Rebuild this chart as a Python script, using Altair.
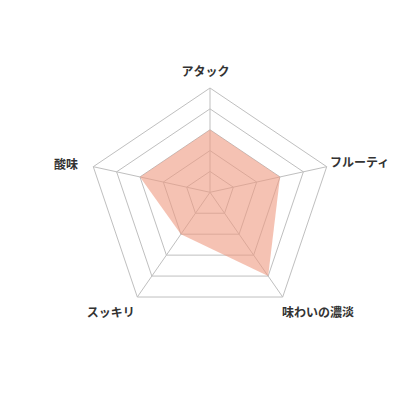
import altair as alt
import pandas as pd

# ---- data ----
AXES = ["アタック", "フルーティ", "味わいの濃淡", "スッキリ", "酸味"]
VALUES = [3, 3, 4, 2, 3]
LEVELS = [1, 2, 3, 4, 5]

# ---- layout (direction of each spoke per ring unit, label anchors) ----
DIR_X = [0.0, 1.119, 0.697, -0.697, -1.119]
DIR_Y = [1.0, 0.2455, -1.004, -1.004, 0.2455]
LABEL_X = [-0.21, 5.75, 5.18, -4.76, -6.33]
LABEL_Y = [5.75, 1.39, -5.77, -5.80, 1.31]
LABEL_ALIGN = ["center", "left", "center", "center", "right"]

U = 20.86           # pixels per ring unit
W = H = 400
CX, CY = 202.0, 184.3
xdom = [-CX / U, (W - CX) / U]
ydom = [-(H - CY) / U, CY / U]

axes_df = pd.DataFrame({"axis": AXES, "idx": list(range(len(AXES))),
                        "dx": DIR_X, "dy": DIR_Y})
series_df = axes_df.assign(value=VALUES)
grid_df = pd.concat([axes_df.assign(level=l) for l in LEVELS], ignore_index=True)
spoke_df = axes_df.assign(level=max(LEVELS))
label_df = pd.DataFrame({"axis": AXES, "lx": LABEL_X, "ly": LABEL_Y,
                         "align": LABEL_ALIGN})

xs = alt.Scale(domain=xdom, nice=False, zero=False)
ys = alt.Scale(domain=ydom, nice=False, zero=False)

GRID = "#bfbfbf"

rings = alt.Chart(grid_df).transform_calculate(
    px="datum.dx * datum.level", py="datum.dy * datum.level"
).mark_line(interpolate="linear-closed", stroke=GRID, strokeWidth=1).encode(
    x=alt.X("px:Q", scale=xs, axis=None),
    y=alt.Y("py:Q", scale=ys, axis=None),
    detail="level:N",
    order="idx:Q",
)

spokes = alt.Chart(spoke_df).transform_calculate(
    x0="0", y0="0", px="datum.dx * datum.level", py="datum.dy * datum.level"
).mark_rule(stroke=GRID, strokeWidth=1).encode(
    x=alt.X("x0:Q", scale=xs, axis=None),
    y=alt.Y("y0:Q", scale=ys, axis=None),
    x2="px:Q",
    y2="py:Q",
)

area = alt.Chart(series_df).transform_calculate(
    px="datum.dx * datum.value", py="datum.dy * datum.value"
).mark_line(interpolate="linear-closed", fill="#ef9a80", fillOpacity=0.6,
            stroke="#ef9a80", strokeOpacity=0, strokeWidth=0).encode(
    x=alt.X("px:Q", scale=xs, axis=None),
    y=alt.Y("py:Q", scale=ys, axis=None),
    order="idx:Q",
)

labels = []
for al in ["center", "left", "right"]:
    labels.append(
        alt.Chart(label_df).transform_filter(alt.datum.align == al).mark_text(
            align=al, baseline="middle", font="Noto Sans CJK JP",
            fontWeight="bold", fontSize=12, color="#333333"
        ).encode(
            x=alt.X("lx:Q", scale=xs, axis=None),
            y=alt.Y("ly:Q", scale=ys, axis=None),
            text="axis:N",
        )
    )

chart = alt.layer(rings, spokes, area, *labels).properties(
    width=W, height=H, padding=0,
    autosize=alt.AutoSizeParams(type="none"),
).configure_view(stroke=None)

chart.save("out.html", embed_options={"renderer": "svg", "actions": False})
